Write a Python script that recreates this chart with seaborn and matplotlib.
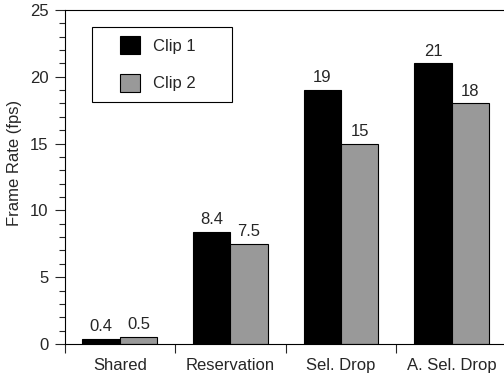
import pandas as pd
import matplotlib
matplotlib.use("Agg")
import matplotlib.pyplot as plt
from matplotlib.patches import Rectangle
from matplotlib.ticker import MultipleLocator, FixedLocator, NullFormatter
import seaborn as sns

# Data
schemes = ["Shared", "Reservation", "Sel. Drop", "A. Sel. Drop"]
clip1 = [0.4, 8.4, 19, 21]
clip2 = [0.5, 7.5, 15, 18]
clip1_labels = ["0.4", "8.4", "19", "21"]
clip2_labels = ["0.5", "7.5", "15", "18"]

df = pd.DataFrame({
    "scheme": schemes * 2,
    "fps": clip1 + clip2,
    "clip": ["Clip 1"] * 4 + ["Clip 2"] * 4,
})

sns.set_style("white")
plt.rcParams["font.family"] = ["Liberation Sans", "DejaVu Sans"]

fig = plt.figure(figsize=(5.04, 3.81), dpi=100)
ax = fig.add_axes([0.128, 0.097, 0.878, 0.877])

sns.barplot(data=df, x="scheme", y="fps", hue="clip",
            palette=["black", "#999999"], width=0.675,
            edgecolor="black", linewidth=0.8, saturation=1, ax=ax)

# value labels above the bars
for cont, labs in zip(ax.containers, [clip1_labels, clip2_labels]):
    ax.bar_label(cont, labels=labs, padding=3.5, fontsize=12)

ax.set_xlim(-0.5, 3.5)
ax.set_ylim(0, 25)
ax.set_xlabel("")
ax.set_ylabel("Frame Rate (fps)", fontsize=12)
ax.yaxis.set_label_coords(-0.095, 0.542)

# y ticks
ax.yaxis.set_major_locator(MultipleLocator(5))
ax.yaxis.set_minor_locator(MultipleLocator(1))
ax.tick_params(axis="y", which="major", direction="out", length=7.5, width=0.8,
               labelsize=12, pad=4, left=True)
ax.tick_params(axis="y", which="minor", direction="out", length=4.3, width=0.8, left=True)

# x ticks on category boundaries, labels in the middle
ax.xaxis.set_major_locator(FixedLocator([-0.5, 0.5, 1.5, 2.5]))
ax.xaxis.set_major_formatter(NullFormatter())
ax.xaxis.set_minor_locator(FixedLocator([0, 1, 2, 3]))
ax.set_xticklabels(schemes, minor=True)
ax.tick_params(axis="x", which="major", direction="out", length=6.5, width=0.8, bottom=True)
ax.tick_params(axis="x", which="minor", length=0, labelsize=12, pad=10)

for s in ["left", "top", "bottom"]:
    ax.spines[s].set_color("black")
    ax.spines[s].set_linewidth(0.8)
ax.spines["right"].set_visible(False)

# legend entries, with a separate box around them
leg = ax.legend(loc="upper left", bbox_to_anchor=(0.125, 0.921), frameon=False,
                fontsize=12, handlelength=1.2, handleheight=1.3,
                labelspacing=1.15, borderpad=0, borderaxespad=0, handletextpad=0.8)
for h in leg.legend_handles:
    h.set_edgecolor("black")
    h.set_linewidth(0.8)
ax.add_patch(Rectangle((0.061, 0.725), 0.317, 0.224, transform=ax.transAxes,
                       fill=False, edgecolor="black", linewidth=0.8, zorder=5))

fig.savefig("out.png", dpi=100)
